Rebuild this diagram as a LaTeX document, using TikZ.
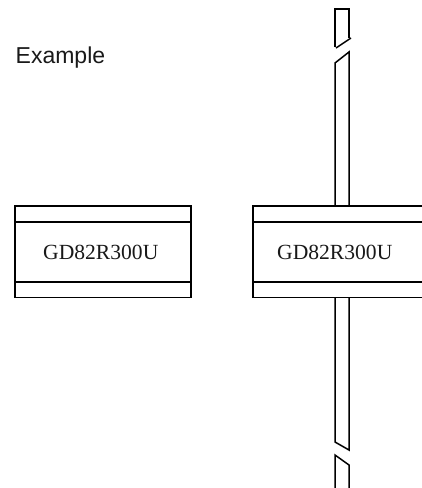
\documentclass[tikz,border=0pt]{standalone}
\usepackage{fontspec}
\setmainfont{Liberation Serif}
\newfontfamily\labelsans{Liberation Sans}
\tikzset{
  x=1pt,y=-1pt,
  wire/.style={draw=black,line width=1.5pt,line cap=butt,line join=miter},
  chipname/.style={inner sep=0pt,anchor=base,font=\fontsize{21.6}{24}\selectfont,text=black!90},
  title/.style={inner sep=0pt,anchor=base west,font=\labelsans\fontsize{23}{26}\selectfont,text=black!90}
}
\begin{document}
\begin{tikzpicture}
\useasboundingbox (0,0) rectangle (422,488);
\fill[white] (0,0) rectangle (422,488);
\node[title] (example) at (15.5,63) {Example};
% left chip
\draw[wire] (15,206) rectangle (191,297.5);
\draw[wire] (15,222) -- (191,222);
\draw[wire] (15,282) -- (191,282);
\node[chipname] (chipA) at (100.8,259.2) {GD82R300U};
% right chip
\draw[wire] (424,206) -- (253,206) -- (253,297.5) -- (424,297.5);
\draw[wire] (253,222) -- (424,222);
\draw[wire] (253,282) -- (424,282);
\node[chipname] (chipB) at (334.8,259.2) {GD82R300U};
% pipe, top
\draw[wire] (335,47) -- (335,9) -- (349,9) -- (349,38);
\draw[wire] (336,48) -- (351,38);
\draw[wire] (335,206) -- (335,63) -- (349,52) -- (349,206);
% pipe, bottom
\draw[wire] (335,298) -- (335,442) -- (349,450) -- (349,298);
\draw[wire] (349,490) -- (349,465) -- (335,455) -- (335,490);
\end{tikzpicture}
\end{document}
